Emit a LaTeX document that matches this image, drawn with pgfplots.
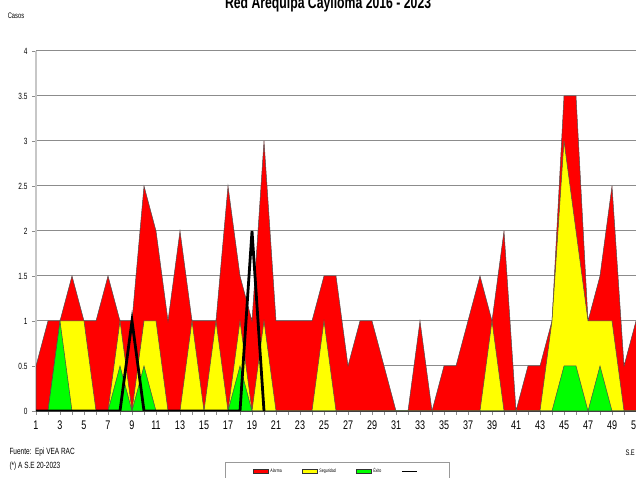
\documentclass[border=0pt]{standalone}
\usepackage{fontspec}
\setmainfont{Liberation Sans}[FakeStretch=0.72]
\usepackage{pgfplots}
\pgfplotsset{compat=1.18}
\definecolor{alarma}{RGB}{255,0,0}
\definecolor{seguridad}{RGB}{255,255,0}
\definecolor{exito}{RGB}{0,255,0}
\definecolor{gridgray}{RGB}{140,140,140}
\pgfplotstableread{
w red yel grn
1 0.5 0 0
2 1 0 0
3 1 1 1
4 1.5 1 0
5 1 1 0
6 1 0 0
7 1.5 0 0
8 1 1 0.5
9 1 0 0
10 2.5 1 0.5
11 2 1 0
12 1 0 0
13 2 0 0
14 1 1 0
15 1 0 0
16 1 1 0
17 2.5 0 0
18 1.5 1 0.5
19 1 0 0
20 3 1 0
21 1 0 0
22 1 0 0
23 1 0 0
24 1 0 0
25 1.5 1 0
26 1.5 0 0
27 0.5 0 0
28 1 0 0
29 1 0 0
30 0.5 0 0
31 0 0 0
32 0 0 0
33 1 0 0
34 0 0 0
35 0.5 0 0
36 0.5 0 0
37 1 0 0
38 1.5 0 0
39 1 1 0
40 2 0 0
41 0 0 0
42 0.5 0 0
43 0.5 0 0
44 1 1 0
45 3.5 3 0.5
46 3.5 2 0.5
47 1 1 0
48 1.5 1 0.5
49 2.5 1 0
50 0.5 0 0
51 1 0 0
52 1 0 0
}\canal
\pgfplotstableread{
w c
1 0
2 0
3 0
4 0
5 0
6 0
7 0
8 0
9 1
10 0
11 0
12 0
13 0
14 0
15 0
16 0
17 0
18 0
19 2
20 0
}\actual
\begin{document}
\begin{tikzpicture}[x=1pt,y=1pt]
\useasboundingbox (0,0) rectangle (636,478);
\clip (0,0) rectangle (636,478);
\node[anchor=base, font=\bfseries\fontsize{17}{17}\selectfont] at (330,469) {Red Arequipa Caylloma 2016 - 2023\textsuperscript{*}};
\node[font=\fontsize{8}{8}\selectfont] at (16,462) {Casos};
\node[anchor=west, font=\fontsize{9}{9}\selectfont] at (6,26) {Fuente:\ \ Epi VEA RAC};
\node[anchor=west, font=\fontsize{9}{9}\selectfont] at (6,12) {(*) A S.E 20-2023};
\node[anchor=west, font=\fontsize{8}{8}\selectfont] at (622,25) {S.E};
\begin{axis}[
  at={(36pt,67pt)}, anchor=south west,
  scale only axis, width=612pt, height=360pt,
  xmin=1, xmax=52, ymin=0, ymax=4,
  axis x line*=bottom, axis y line*=left,
  x axis line style={black!75, line width=0.8pt},
  y axis line style={black!22, line width=2pt},
  xtick={1,3,...,51}, minor xtick={2,4,...,52},
  ytick={0,0.5,...,4},
  yticklabels={0,0.5,1,1.5,2,2.5,3,3.5,4},
  tick align=outside,
  major tick length=4pt, minor tick length=4pt,
  every tick/.style={black!45, line width=0.6pt},
  ymajorgrids, grid style={gridgray, line width=1pt},
  /pgf/number format/assume math mode=true,
  xticklabel style={font=\fontsize{12.5}{12.5}\selectfont, yshift=-2pt},
  yticklabel style={font=\fontsize{9}{9}\selectfont, xshift=-1pt},
  legend columns=4,
  legend style={at={(0.492,-0.142)}, anchor=north, draw=black!40,
    font=\fontsize{5}{5}\selectfont, inner xsep=28pt, inner ysep=4pt,
    /tikz/every even column/.append style={column sep=18pt}},
  area legend,
  legend image code/.code={\draw[#1, draw=black!80] (0pt,-2pt) rectangle (15pt,2pt);},
]
\addplot[fill=alarma, draw=black!70, line width=0.5pt] table[x=w, y=red] {\canal} \closedcycle;
\addlegendentry{Alarma}
\addplot[fill=seguridad, draw=black!70, line width=0.5pt] table[x=w, y=yel] {\canal} \closedcycle;
\addlegendentry{Seguridad}
\addplot[fill=exito, draw=black!70, line width=0.5pt] table[x=w, y=grn] {\canal} \closedcycle;
\addlegendentry{Éxito}
\addplot[black, line width=2.8pt, line join=miter, legend image code/.code={\draw[black, line width=1pt] (0pt,0pt) -- (15pt,0pt);}] table[x=w, y=c] {\actual};
\addlegendentry{}
\end{axis}
\end{tikzpicture}
\end{document}
